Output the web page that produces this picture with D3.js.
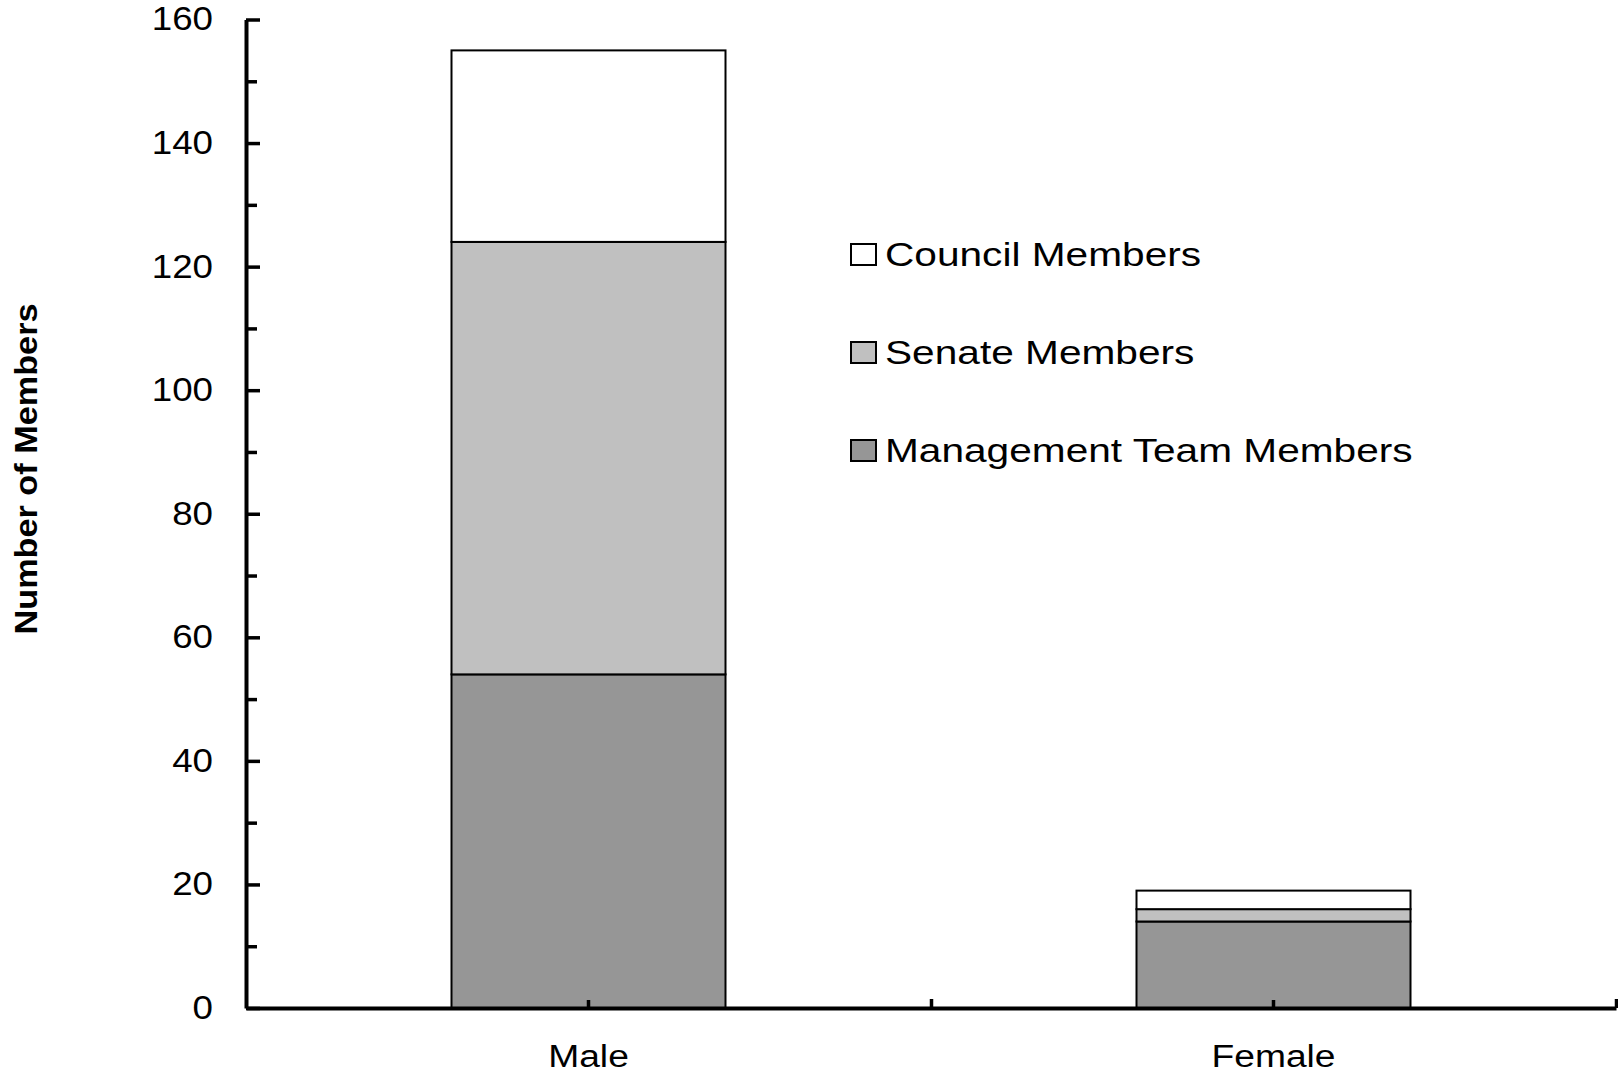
<!DOCTYPE html>
<html><head><meta charset="utf-8">
<script src="https://cdn.jsdelivr.net/npm/d3@7"></script>
<style>body{margin:0;background:#fff}svg{display:block}text{font-family:"Liberation Sans",Arial,sans-serif;fill:#000}</style>
</head><body><svg id="c" width="1618" height="1074"></svg>
<script>
const categories = ["Male", "Female"];
const seriesNames = ["Management Team Members", "Senate Members", "Council Members"];
const management = [54, 14];
const senate = [70, 2];
const council = [31, 3];
const yTicks = [0, 20, 40, 60, 80, 100, 120, 140, 160];
const yMinorTicks = [10, 30, 50, 70, 90, 110, 130, 150];
const legendOrder = ["Council Members", "Senate Members", "Management Team Members"];
const colors = {"Management Team Members": "#969696", "Senate Members": "#c0c0c0", "Council Members": "#ffffff"};

const svg = d3.select("#c");
const X0 = 246, X1 = 1616, Y0 = 1008, Y1 = 19.5;
function widen(k){ return sel => sel.each(function(){ const l=this.getComputedTextLength(); this.setAttribute("textLength", l*k); this.setAttribute("lengthAdjust","spacingAndGlyphs");}); }

const x = d3.scaleBand().domain(categories).range([X0, X1]).padding(0);
const y = d3.scaleLinear().domain([0, 160]).range([Y0, Y1]);

const rows = categories.map((c, i) => ({cat: c, "Management Team Members": management[i], "Senate Members": senate[i], "Council Members": council[i]}));
const stacked = d3.stack().keys(seriesNames)(rows);
const bw = x.bandwidth() * 0.4;

svg.append("g").selectAll("g").data(stacked).join("g")
  .attr("fill", d => colors[d.key])
  .selectAll("rect").data(d => d).join("rect")
  .attr("x", d => x(d.data.cat) + (x.bandwidth() - bw) / 2)
  .attr("width", bw)
  .attr("y", d => y(d[1]))
  .attr("height", d => y(d[0]) - y(d[1]))
  .attr("stroke", "#000").attr("stroke-width", 2);

// Y axis
const yAxis = svg.append("g").attr("transform", `translate(${X0},0)`)
  .call(d3.axisLeft(y).tickValues(yTicks).tickSize(-14).tickPadding(33).tickSizeOuter(0));
yAxis.select(".domain").attr("stroke-width", 4).attr("stroke", "#000");
yAxis.selectAll(".tick line").attr("stroke-width", 3.5).attr("stroke", "#000");
yAxis.selectAll("text").attr("font-size", 32.5).attr("font-family", '"Liberation Sans",Arial,sans-serif').call(widen(1.13));
const yMinor = svg.append("g").attr("transform", `translate(${X0},0)`)
  .call(d3.axisLeft(y).tickValues(yMinorTicks).tickSize(-11).tickFormat("").tickSizeOuter(0));
yMinor.select(".domain").remove();
yMinor.selectAll(".tick line").attr("stroke-width", 3.5).attr("stroke", "#000");

// X axis
const xAxis = svg.append("g").attr("transform", `translate(0,${Y0})`)
  .call(d3.axisBottom(x).tickSize(-8).tickPadding(37).tickSizeOuter(0));
xAxis.select(".domain").attr("stroke-width", 4).attr("stroke", "#000");
xAxis.selectAll(".tick line").attr("stroke-width", 3.5).attr("stroke", "#000");
xAxis.selectAll("text").attr("font-size", 31).attr("font-family", '"Liberation Sans",Arial,sans-serif').call(widen(1.2));
const xb = d3.scaleLinear().domain([0, categories.length]).range([X0, X1]);
const xBound = svg.append("g").attr("transform", `translate(0,${Y0})`)
  .call(d3.axisBottom(xb).tickValues(d3.range(1, categories.length + 1)).tickSize(-9).tickFormat("").tickSizeOuter(0));
xBound.select(".domain").remove();
xBound.selectAll(".tick line").attr("stroke-width", 3.5).attr("stroke", "#000");

// Y label
svg.append("text").attr("transform", "translate(37,469) rotate(-90)")
  .attr("text-anchor", "middle").attr("font-size", 32).attr("font-weight", "bold")
  .text("Number of Members").call(widen(1.07));

// Legend
const lg = svg.append("g").attr("transform", "translate(851,244)");
const li = lg.selectAll("g").data(legendOrder).join("g").attr("transform", (d, i) => `translate(0,${i * 98})`);
li.append("rect").attr("width", 25).attr("height", 21).attr("fill", d => colors[d]).attr("stroke", "#000").attr("stroke-width", 2);
li.append("text").attr("x", 34).attr("y", 10.5).attr("dy", "0.36em").attr("font-size", 32.5).text(d => d).call(widen(1.25));
</script></body></html>
